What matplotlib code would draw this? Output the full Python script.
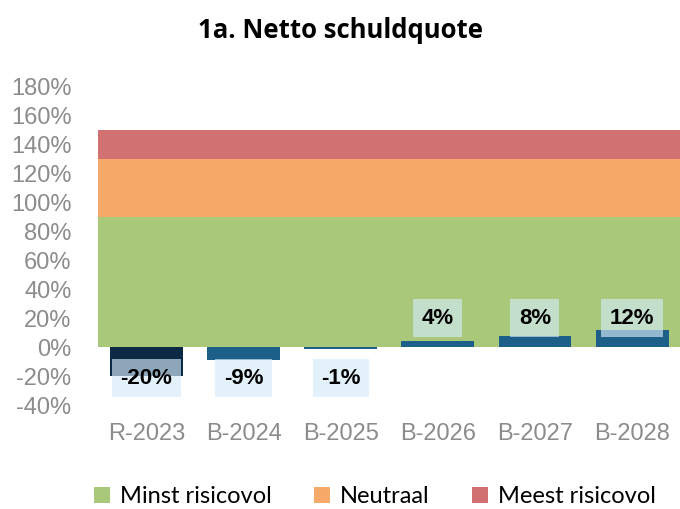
import matplotlib
matplotlib.use("Agg")
import matplotlib.pyplot as plt
from matplotlib.patches import Patch

categories = ["R-2023", "B-2024", "B-2025", "B-2026", "B-2027", "B-2028"]
values = [-20, -9, -1, 4, 8, 12]
labels = ["-20%", "-9%", "-1%", "4%", "8%", "12%"]
band_names = ["Minst risicovol", "Neutraal", "Meest risicovol"]
band_lower = [0, 90, 130]
band_upper = [90, 130, 150]
band_colors = ["#a9c879", "#f7a96a", "#d27171"]
bar_colors = ["#0c2a46", "#1c5f88", "#1c5f88", "#1c5f88", "#1c5f88", "#1c5f88"]
yticks = list(range(-40, 181, 20))

fig = plt.figure(figsize=(6.8, 5.09), dpi=100)
ax = fig.add_axes([0.144, 0.204, 0.857, 0.627])

n = len(categories)
for lo, hi, c in zip(band_lower, band_upper, band_colors):
    ax.fill_between([-0.5, n - 0.5], [lo, lo], [hi, hi], color=c, linewidth=0, zorder=1)

x = list(range(n))
ax.bar(x, values, width=0.75, color=bar_colors, zorder=2)

for xi, v, lab in zip(x, values, labels):
    ypos = -21.5 if v < 0 else 20
    ax.text(xi, ypos, lab, ha="center", va="center", fontsize=16, fontweight="bold",
            family="Liberation Sans", color="black", zorder=4,
            bbox=dict(boxstyle="square,pad=0.38", facecolor="#d4eaf9", edgecolor="none", alpha=0.65))

ax.set_xlim(-0.5, n - 0.5)
ax.set_ylim(-40, 180)
ax.set_yticks(yticks)
ax.set_yticklabels([f"{t}%" for t in yticks])
ax.set_xticks(x)
ax.set_xticklabels(categories)
for s in ax.spines.values():
    s.set_visible(False)
ax.tick_params(axis="both", length=0, labelcolor="#8c8c8c", labelsize=17)
ax.tick_params(axis="y", pad=19)
ax.tick_params(axis="x", pad=13)
for t in ax.get_xticklabels() + ax.get_yticklabels():
    t.set_family("Liberation Sans")

fig.text(0.5, 0.94, "1a. Netto schuldquote", ha="center", va="center",
         fontsize=18.5, fontweight="bold", family="Open Sans")

handles = [Patch(facecolor=c, edgecolor="none") for c in band_colors]
leg = fig.legend(handles, band_names, loc="center", bbox_to_anchor=(0.551, 0.024),
                 ncol=3, frameon=False, handlelength=0.7, handleheight=0.7,
                 handletextpad=0.4, columnspacing=1.8, prop={"family": "Lato", "size": 17})

fig.savefig("out.png", dpi=100)
